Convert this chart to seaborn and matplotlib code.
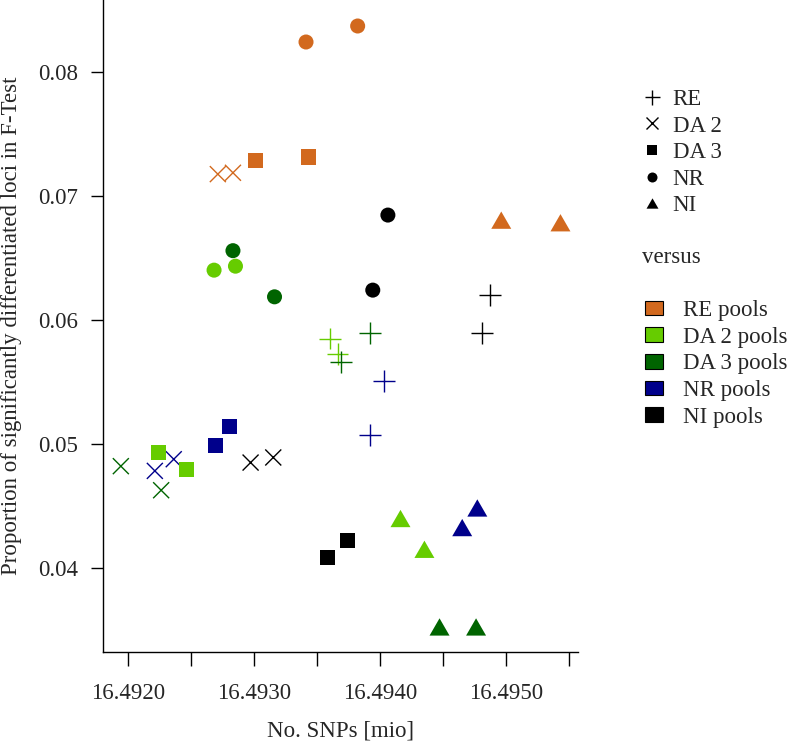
import numpy as np
import pandas as pd
import matplotlib
matplotlib.use("Agg")
import matplotlib.pyplot as plt
from matplotlib.lines import Line2D
from matplotlib.patches import Patch
import seaborn as sns

# ---------------- data ----------------
populations = ["RE", "DA 2", "DA 3", "NR", "NI"]
versus_labels = ["RE pools", "DA 2 pools", "DA 3 pools", "NR pools", "NI pools"]

point_pop = (["RE"] * 8 + ["DA 2"] * 8 + ["DA 3"] * 8 + ["NR"] * 8 + ["NI"] * 8)
point_versus = (
    ["DA 2 pools"] * 2 + ["DA 3 pools"] * 2 + ["NR pools"] * 2 + ["NI pools"] * 2 +
    ["RE pools"] * 2 + ["DA 3 pools"] * 2 + ["NR pools"] * 2 + ["NI pools"] * 2 +
    ["RE pools"] * 2 + ["DA 2 pools"] * 2 + ["NR pools"] * 2 + ["NI pools"] * 2 +
    ["RE pools"] * 2 + ["DA 2 pools"] * 2 + ["DA 3 pools"] * 2 + ["NI pools"] * 2 +
    ["RE pools"] * 2 + ["DA 2 pools"] * 2 + ["DA 3 pools"] * 2 + ["NR pools"] * 2
)
snps_mio = [
    16.49360, 16.49366, 16.49392, 16.49369, 16.49403, 16.49392, 16.49487, 16.49481,
    16.49271, 16.49283, 16.49194, 16.49226, 16.49221, 16.49236, 16.49297, 16.49315,
    16.49301, 16.49343, 16.49224, 16.49246, 16.49269, 16.49280, 16.49358, 16.49374,
    16.49341, 16.49382, 16.49268, 16.49285, 16.49283, 16.49316, 16.49406, 16.49394,
    16.49496, 16.49543, 16.49416, 16.49435, 16.49447, 16.49476, 16.49465, 16.49477,
]
prop_sig = [
    0.05852, 0.05726, 0.05893, 0.05664, 0.05508, 0.05078, 0.06202, 0.05898,
    0.07177, 0.07188, 0.04823, 0.04629, 0.04785, 0.04879, 0.04852, 0.04893,
    0.07290, 0.07315, 0.04930, 0.04798, 0.04992, 0.05140, 0.04089, 0.04226,
    0.08242, 0.08371, 0.06403, 0.06435, 0.06560, 0.06188, 0.06847, 0.06242,
    0.06806, 0.06785, 0.04401, 0.04153, 0.03527, 0.03527, 0.04328, 0.04486,
]
x_major_ticks = [16.4920, 16.4930, 16.4940, 16.4950]
x_minor_ticks = [16.4925, 16.4935, 16.4945, 16.4955]
y_ticks = [0.04, 0.05, 0.06, 0.07, 0.08]

df = pd.DataFrame({"pop": point_pop, "versus": point_versus,
                   "snps": snps_mio, "prop": prop_sig})

# ---------------- style ----------------
sns.set_style("white")
plt.rcParams["font.family"] = ["Liberation Serif", "DejaVu Serif"]
FS = 16.5

palette = {"RE pools": "#D2691E", "DA 2 pools": "#66CC00", "DA 3 pools": "#006400",
           "NR pools": "#00008B", "NI pools": "#000000"}
tri = [(-1.0, -0.866), (1.0, -0.866), (0.0, 0.866)]
marker_map = {"RE": "+", "DA 2": "x", "DA 3": "s", "NR": "o", "NI": tri}
size_map = {"RE": 250, "DA 2": 133, "DA 3": 117, "NR": 117, "NI": 207}
legend_ms = {"RE": 10.8, "DA 2": 8.6, "DA 3": 7.2, "NR": 7.2, "NI": 8.6}

fig = plt.figure(figsize=(7.87, 7.41), dpi=100)
ax = fig.add_axes([0.1313, 0.1197, 0.6031, 0.8803])

for p in populations:
    sub = df[df["pop"] == p]
    filled = p in ("DA 3", "NR", "NI")
    sns.scatterplot(data=sub, x="snps", y="prop", hue="versus", palette=palette,
                    hue_order=versus_labels, marker=marker_map[p], s=size_map[p],
                    linewidth=0 if filled else 1.0, legend=False, ax=ax,
                    zorder=3)

ax.set_xlim(16.491801, 16.495569)
ax.set_ylim(0.033226, 0.085806)
ax.set_xticks(x_major_ticks)
ax.set_xticklabels([f"{v:.4f}" for v in x_major_ticks])
ax.set_xticks(x_minor_ticks, minor=True)
ax.set_yticks(y_ticks)
ax.set_yticklabels([f"{v:.2f}" for v in y_ticks])
for s in ["top", "right"]:
    ax.spines[s].set_visible(False)
for s in ["left", "bottom"]:
    ax.spines[s].set_color("black")
    ax.spines[s].set_linewidth(1.0)
ax.tick_params(axis="x", which="both", direction="out", length=10.3, width=1.0,
               color="black", pad=12, labelsize=FS, bottom=True)
ax.tick_params(axis="y", direction="out", length=8.5, width=1.0, color="black",
               pad=10, labelsize=FS, left=True)
ax.set_xlabel("No. SNPs [mio]", fontsize=FS, va="center")
ax.set_ylabel("Proportion of significantly differentiated loci in F-Test",
              fontsize=FS, va="center")
ax.xaxis.set_label_coords(0.5, -0.1207)
ax.yaxis.set_label_coords(-0.1944, 0.5)

# ---------------- legends ----------------
mh = [Line2D([], [], linestyle="none", marker=marker_map[p], color="black",
             markersize=legend_ms[p], markeredgewidth=1.0 if p in ("RE", "DA 2") else 0)
      for p in populations]
leg1 = fig.legend(mh, populations, loc="upper left", bbox_to_anchor=(0.8149, 0.8800),
                  frameon=False, fontsize=FS, borderpad=0, handlelength=0.91,
                  handletextpad=0.46, labelspacing=0.24, borderaxespad=0)
fig.text(641.7 / 787, 1 - 257 / 741, "versus", fontsize=FS, va="center", ha="left")
ph = [Patch(facecolor=palette[v], edgecolor="black", linewidth=0.8) for v in versus_labels]
leg2 = fig.legend(ph, versus_labels, loc="upper left", bbox_to_anchor=(0.8196, 0.5950),
                  frameon=False, fontsize=FS, borderpad=0, handlelength=0.77,
                  handleheight=0.61, handletextpad=0.87, labelspacing=0.245,
                  borderaxespad=0)

fig.savefig("out.png", dpi=100)
